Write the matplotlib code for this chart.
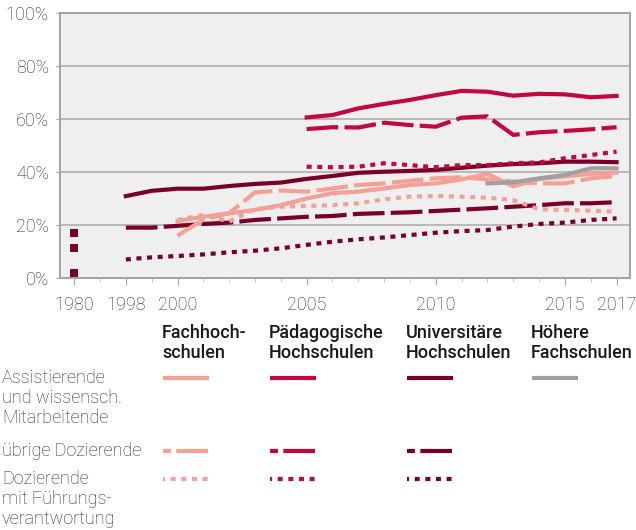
import matplotlib
matplotlib.use("Agg")
import matplotlib.pyplot as plt
from matplotlib.lines import Line2D

plt.rcParams['font.family'] = ['Roboto', 'DejaVu Sans']

# Daten (Anteil Frauen in %)
years_uh = list(range(1998, 2018))
years_fh = list(range(2000, 2018))
years_ph = list(range(2005, 2018))
years_hf = list(range(2012, 2018))

uh_assist = [30.9, 32.9, 33.7, 33.7, 34.7, 35.5, 36.0, 37.4, 38.5, 39.7,
             40.1, 40.4, 40.8, 41.6, 42.4, 43.0, 43.3, 43.9, 43.9, 43.7]
uh_uebrige = [19.0, 19.0, 19.7, 20.4, 20.9, 21.9, 22.5, 23.1, 23.4, 24.2,
              24.5, 24.8, 25.3, 25.8, 26.3, 26.9, 27.5, 28.2, 28.2, 28.6]
uh_fuehrung = [7.0, 7.8, 8.3, 8.9, 9.7, 10.3, 11.2, 12.5, 13.7, 14.6,
               15.3, 16.2, 17.1, 17.7, 18.1, 19.4, 20.4, 20.9, 21.9, 22.5]
uh_1980 = [17.0, 11.3, 1.7]

fh_assist = [21.5, 23.1, 24.4, 25.7, 27.5, 30.0, 32.0, 32.6, 33.8, 35.1,
             35.7, 37.2, 39.3, 34.6, 37.3, 38.3, 39.3, 39.8]
fh_uebrige = [16.0, 22.0, 24.5, 32.3, 33.0, 32.6, 33.8, 35.1, 35.7, 36.7,
              37.6, 38.0, 37.2, 36.4, 35.7, 35.7, 37.6, 38.5]
fh_fuehrung = [21.9, 23.8, 21.3, 26.0, 26.9, 27.2, 27.5, 28.2, 29.7, 30.7,
               30.9, 30.7, 30.3, 29.4, 25.9, 25.7, 25.4, 25.0]

ph_assist = [60.6, 61.5, 64.0, 65.7, 67.2, 69.0, 70.6, 70.3, 68.8, 69.5, 69.3, 68.2, 68.7]
ph_uebrige = [56.2, 56.9, 56.8, 58.6, 57.7, 57.1, 60.5, 61.0, 54.0, 55.0, 55.5, 56.1, 56.9]
ph_fuehrung = [42.0, 41.8, 42.0, 43.3, 42.6, 41.8, 42.6, 42.6, 43.3, 43.6, 45.2, 46.4, 47.7]

hf_assist = [35.7, 36.1, 37.6, 38.9, 41.4, 41.4]

tick_years = [1980, 1998, 2000, 2005, 2010, 2015, 2017]
pos_1980 = 1996  # 1980 wird links neben der Zeitreihe gezeigt

headers = ["Fachhoch-\nschulen", "Pädagogische\nHochschulen",
           "Universitäre\nHochschulen", "Höhere\nFachschulen"]
row_labels = [["Assistierende", "und wissensch.", "Mitarbeitende"],
              ["übrige Dozierende"],
              ["Dozierende", "mit Führungs-", "verantwortung"]]

c_fh = '#f4a097'
c_ph = '#c4073d'
c_uh = '#7a0026'
c_hf = '#a0a0a0'

W, H = 636, 530
lw = 3.0
fs = 13
solid = '-'
dashed = (0, (7.6, 1.5))
dotted = (0, (1.2, 1.35))

fig = plt.figure(figsize=(W / 100, H / 100), dpi=100)
ax = fig.add_axes([60 / W, 1 - 278 / H, 570 / W, 265 / H])
ax.set_facecolor('#efefef')

def px(x, y):
    return x / W, 1 - y / H

def draw(xs, ys, color, ls):
    ax.plot(xs, ys, color=color, linestyle=ls, lw=lw,
            solid_joinstyle='round', dash_capstyle='butt', dash_joinstyle='round')

draw(years_uh, uh_fuehrung, c_uh, dotted)
draw(years_uh, uh_uebrige, c_uh, dashed)
draw(years_fh, fh_fuehrung, c_fh, dotted)
draw(years_fh, fh_uebrige, c_fh, dashed)
draw(years_fh, fh_assist, c_fh, solid)
draw(years_hf, hf_assist, c_hf, solid)
draw(years_uh, uh_assist, c_uh, solid)
draw(years_ph, ph_fuehrung, c_ph, dotted)
draw(years_ph, ph_uebrige, c_ph, dashed)
draw(years_ph, ph_assist, c_ph, solid)
ax.plot([pos_1980] * len(uh_1980), uh_1980, 's', color=c_uh, ms=5.8, mew=0)

ax.set_xlim(1995.45, 2017.52)
ax.set_ylim(0, 100)
ax.set_yticks([0, 20, 40, 60, 80, 100])
ax.set_yticklabels([f"{v}%" for v in range(0, 101, 20)])
ax.set_xticks([pos_1980 if y == 1980 else y for y in tick_years])
ax.set_xticklabels([str(y) for y in tick_years])
ax.set_xticks(list(range(1997, 2018)), minor=True)
ax.grid(axis='y', color='#a9a9a9', lw=1.1)
ax.set_axisbelow(True)
for s in ax.spines.values():
    s.set_color('#a3a3a3')
    s.set_linewidth(1.4)
ax.tick_params(axis='y', length=3, color='#a3a3a3', labelsize=fs,
               labelcolor='#2a2a2a', pad=5)
ax.tick_params(axis='x', which='major', length=5, color='#a3a3a3', labelsize=fs,
               labelcolor='#2a2a2a', pad=8)
ax.tick_params(axis='x', which='minor', length=3, color='#c0c0c0')
for lab in ax.get_xticklabels() + ax.get_yticklabels():
    lab.set_fontweight('light')

# Legende unter dem Diagramm
col_x = [163, 270, 407, 532]
for x, h in zip(col_x, headers):
    for i, line in enumerate(h.split("\n")):
        fig.text(*px(x - 1, 333 + i * 20), line, fontsize=fs, fontweight='medium',
                 color='#1a1a1a', va='center', ha='left')

row_y = [378, 451, 479]
for y, lines in zip(row_y, row_labels):
    for i, line in enumerate(lines):
        fig.text(*px(2, y + i * 20), line, fontsize=fs, fontweight='light',
                 color='#2a2a2a', va='center', ha='left')

leg = [
    [(c_fh, solid), (c_ph, solid), (c_uh, solid), (c_hf, solid)],
    [(c_fh, (5.7, (7.6, 1.3))), (c_ph, (5.7, (7.6, 1.3))), (c_uh, (5.7, (7.6, 1.3))), None],
    [(c_fh, (0.7, (1.2, 1.35))), (c_ph, (0.7, (1.2, 1.35))), (c_uh, (0.7, (1.2, 1.35))), None],
]
for y, row in zip(row_y, leg):
    for x, item in zip(col_x, row):
        if item is None:
            continue
        x0, y0 = px(x, y)
        x1, _ = px(x + 46, y)
        fig.add_artist(Line2D([x0, x1], [y0, y0], transform=fig.transFigure,
                              color=item[0], linestyle=item[1], lw=lw,
                              dash_capstyle='butt', solid_capstyle='butt'))

fig.savefig('out.png', dpi=100)
